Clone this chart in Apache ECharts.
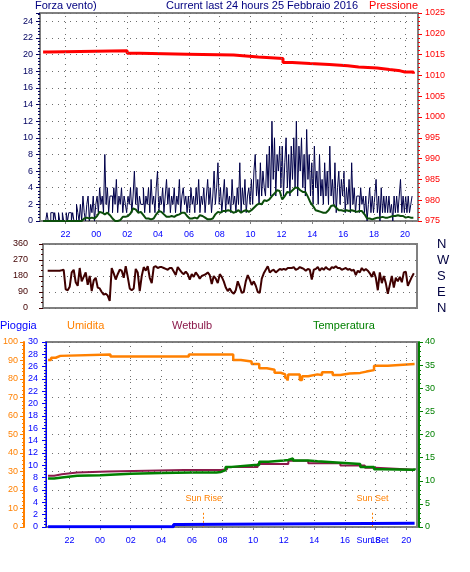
<!DOCTYPE html>
<html><head><meta charset="utf-8">
<script src="https://cdn.jsdelivr.net/npm/echarts@6/dist/echarts.min.js"></script>
<style>html,body{margin:0;padding:0;background:#fff}#c{width:470px;height:572px}</style>
</head><body><div id="c"></div>
<script>
// ---------- data ----------
const hourTicks = [-2,0,2,4,6,8,10,12,14,16,18,20];   // hours relative to 00:00 of 25 Feb
const gustStart = -3.45, gustStepMin = 5;
const gust = [0,0,0,1,0,
 0,1,1,0,1,0,0,1,0,0,1,0,
 0,1,0,1,1,0,1,0,0,2,1,0,
 2,0,3,1,0,2,3,0,2,1,3,0,
 2,3,1,4,2,3,1,8,2,4,1,3,
 3,1,4,2,5,1,3,2,4,1,3,2,
 1,3,2,4,1,3,6,2,4,1,3,2,
 2,4,1,3,2,4,1,5,2,3,1,4,
 6,1,3,2,4,1,3,5,2,4,1,3,
 2,4,1,3,2,5,1,3,4,2,3,1,
 3,1,4,2,3,1,4,2,5,1,3,2,
 4,1,3,5,2,4,1,3,6,2,4,7,
 2,4,1,3,5,1,4,2,3,1,5,2,
 3,1,4,2,7,1,4,2,5,1,3,4,
 2,5,2,6,8,3,5,2,7,3,6,4,
 3,8,4,9,3,12,5,10,3,8,6,9,
 4,9,3,7,10,4,8,3,9,5,10,4,
 12,3,9,6,10,4,8,3,11,5,8,3,
 7,2,9,4,6,2,8,3,5,2,7,3,
 6,2,9,3,5,2,7,1,4,6,2,5,
 3,6,1,4,2,5,1,7,2,4,1,3,
 3,1,4,2,3,1,3,0,2,4,1,3,
 1,3,5,1,3,0,4,1,3,1,3,1,
 3,1,2,0,3,1,3,1,3,5,1,3,
 1,3,1,3,1,2,3];
const avgStart = -3.45, avgStepMin = 10;
const avgWind = [0,0,0,0,0,0,0,0,0,0,0,0,0,0,0,0,
 0.3,0.4,0.3,0.4,0.3,
 0.6,1.1,1.0,0.8,1.0,0.7,0.3,
 0,0,0.1,0.5,0.5,0.6,0.9,
 1.5,1.4,1.0,1.1,0.7,0.3,0.3,
 0.2,0.3,0.8,1.2,1.1,0.8,0.5,
 0.5,0.6,0.5,0.7,0.8,1.0,1.0,
 0.6,0.3,0.3,0.4,0.3,0.7,0.6,
 0.4,0.2,0.2,0.3,0.8,1.1,1.0,
 1.2,1.2,1.3,1.2,1.0,1.1,1.3,
 1.0,1.2,1.3,1.1,1.3,1.6,1.9,
 2.1,2.0,2.5,2.4,2.6,3.0,3.3,
 3.7,3.6,2.6,3.0,3.5,3.4,3.7,
 4.0,4.0,3.7,3.5,3.5,2.9,2.2,
 1.8,1.3,1.2,1.1,1.0,1.0,1.3,
 1.8,1.9,1.6,1.3,1.3,1.2,1.3,
 1.2,1.3,1.2,1.1,1.2,1.2,0.8,
 0.3,0.3,0.2,0.3,0.4,0.4,0.5,
 0.4,0.4,0.5,0.6,0.6,0.7,0.6,
 0.6,0.4,0.5,0.4,0.4];
const pressTimes = [-3.45,-3.1,2.0,2.8,5.9,8.9,10.5,12.1,12.7,13.85,15.1,16.3,17.0,18.2,19.0,19.7,20.0,20.55];
const pressVals  = [1015.6,1015.9,1015.3,1015.1,1014.9,1014.45,1014.05,1013.1,1012.85,1012.6,1012.3,1012.0,1011.8,1011.4,1011.1,1010.8,1010.8,1010.4];
const dirStart = -3.15, dirStepMin = 7.78;
const windDir = [210,210,210,210,210,210,210,212,215,105,100,120,200,215,145,125,225,150,175,200,
 130,180,95,155,170,115,110,90,75,80,70,40,225,195,160,190,215,210,170,235,
 175,110,100,110,220,200,95,180,230,210,235,170,140,230,235,225,230,230,225,220,
 215,225,225,205,185,230,215,200,190,205,190,160,190,175,200,185,165,180,185,190,
 200,185,135,180,165,140,190,175,150,115,95,110,90,80,100,150,120,85,90,150,
 185,160,130,150,125,90,85,165,195,215,235,200,210,215,200,210,220,215,220,215,
 225,225,225,230,215,220,230,225,220,210,220,215,160,215,220,230,210,225,215,230,
 220,215,230,225,235,225,225,215,220,225,215,220,210,215,185,210,200,225,210,220,
 210,195,175,205,170,100,200,140,180,140,80,130,180,115,170,150,175,145,200,205,
 125,150,175,195];
const dirLetters = {0:'N',90:'E',180:'S',270:'W',360:'N'};
const humTimes = [-3.4,-3.2,-2.9,-2.6,0.68,5.8,8.7,9.2,9.9,10.4,10.9,11.4,11.8,12.1,12.25,12.3,12.9,13.05,13.2,13.6,14.2,14.5,15.0,15.2,15.7,16.3,17.0,17.4,17.9,18.8,18.9,20.55];
const humVals  = [90.3,91.5,92.5,93.3,92.1,93.3,90.3,89.4,88.1,85.8,85.0,83.4,82.5,80.5,79.1,82.5,82.5,79.5,81.5,82.5,82.2,83.6,83.6,82.2,83.0,83.3,84.0,84.8,87.2,87.2,88.1,88.1];
const tempTimes = [-3.4,-3.0,-2.5,-1.5,0,2,4,6,7.6,7.9,8.2,8.6,10.1,10.4,11.0,12.0,12.3,12.6,13.6,14.2,15.7,17.0,17.9,18.5,20.3,20.55];
const tempVals  = [10.5,10.7,11.1,11.2,11.5,11.7,11.8,11.8,11.9,12.3,13.0,13.4,13.4,14.1,14.4,14.5,14.85,14.4,14.2,13.9,13.6,13.0,12.5,12.4,12.4,12.7];
const wetTimes = [-3.4,-3.0,-2.5,-1.5,0.5,5.5,7.9,8.3,10.3,12.3,13.6,15.7,17.3,18.0,20.55];
const wetVals  = [11.1,11.4,11.8,12.0,12.3,12.3,12.5,13.0,13.6,14.3,13.8,13.3,12.8,12.4,12.3];
const rainTimes = [-3.4,4.8,5.1,20.55];
const rainVals  = [0.05,0.4,0.6,0.6];
const sunRise = 6.77, sunSet = 17.8;

// ---------- helpers ----------
const seq = (start, stepMin, vals) => vals.map((v,i)=>[start + i*stepMin/60, v]);
const pairs = (t, v) => t.map((x,i)=>[x, v[i]]);
const hh = v => { const h = ((Math.round(v) % 24) + 24) % 24; return (h<10?'0':'') + h; };
const FONT = 'Liberation Sans';
const DOT = '#6e6e6e';
const dotted = () => ({show:true, lineStyle:{color:DOT, type:[1,5], width:1}});
const vGrid = {silent:true, symbol:['none','none'], label:{show:false},
  lineStyle:{color:DOT, type:[1,5], width:1}, emphasis:{disabled:true},
  data: hourTicks.map(h=>({xAxis:h}))};

const chart = echarts.init(document.getElementById('c'), null, {renderer:'canvas'});
const frame = {show:true, borderColor:'#808080', borderWidth:2, backgroundColor:'transparent'};
const yl = {onZero:false};

const option = {
  animation:false,
  backgroundColor:'#fff',
  textStyle:{fontFamily:FONT},
  grid:[
    Object.assign({left:40, top:13, width:378, height:208}, frame),
    Object.assign({left:43, top:244, width:374, height:64}, frame),
    Object.assign({left:43, top:342, width:374, height:185}, frame)
  ],
  xAxis:[
    {gridIndex:0, type:'value', min:-3.65, max:20.85, position:'bottom',
     axisLine:{show:false, onZero:false},
     axisTick:{show:true, customValues:hourTicks, length:3, lineStyle:{color:'#808080'}},
     axisLabel:{customValues:hourTicks, formatter:hh, color:'#0000ff', fontSize:9, margin:9, fontFamily:FONT},
     splitLine:{show:false}},
    {gridIndex:1, type:'value', min:-3.454, max:20.785,
     axisLine:{show:false, onZero:false}, axisTick:{show:false}, axisLabel:{show:false}, splitLine:{show:false}},
    {gridIndex:2, type:'value', min:-3.532, max:20.707, position:'bottom',
     axisLine:{show:false, onZero:false},
     axisTick:{show:true, customValues:hourTicks, length:3, lineStyle:{color:'#808080'}},
     axisLabel:{customValues:hourTicks, formatter:hh, color:'#0000ff', fontSize:9, margin:9, fontFamily:FONT},
     splitLine:{show:false}},
    {gridIndex:2, type:'value', min:-3.532, max:20.707, position:'bottom',
     axisLine:{show:false, onZero:false}, axisTick:{show:false}, splitLine:{show:false},
     axisLabel:{customValues:[sunSet], formatter:()=> 'Sun Set', color:'#0000ff', fontSize:9, margin:9, fontFamily:FONT}}
  ],
  yAxis:[
    {gridIndex:0, type:'value', min:0, max:25, interval:2, position:'left',
     axisLine:{show:false, onZero:false},
     axisTick:{show:true, length:4, lineStyle:{color:'#000060'}},
     minorTick:{show:true, splitNumber:5, length:2, lineStyle:{color:'#000060'}},
     axisLabel:{color:'#000060', fontSize:9, margin:7, showMaxLabel:false, fontFamily:FONT},
     splitLine:dotted()},
    {gridIndex:0, type:'value', min:975, max:1025, interval:5, position:'right',
     axisLine:{show:false, onZero:false},
     axisTick:{show:true, length:4, lineStyle:{color:'#ff0000'}},
     minorTick:{show:true, splitNumber:5, length:2, lineStyle:{color:'#ff0000'}},
     axisLabel:{color:'#ff0000', fontSize:9, margin:7, fontFamily:FONT, formatter:v=>String(v)},
     splitLine:{show:false}},
    {gridIndex:1, type:'value', min:0, max:360, interval:90, position:'left',
     axisLine:{show:false, onZero:false},
     axisTick:{show:true, length:4, lineStyle:{color:'#400000'}},
     minorTick:{show:true, splitNumber:3, length:2, lineStyle:{color:'#400000'}},
     axisLabel:{color:'#400000', fontSize:9, margin:15, fontFamily:FONT},
     splitLine:dotted()},
    {gridIndex:1, type:'value', min:0, max:360, interval:90, position:'right',
     axisLine:{show:false, onZero:false}, axisTick:{show:false}, splitLine:{show:false},
     axisLabel:{formatter:v=>dirLetters[v], color:'#000040', fontSize:13, margin:20, fontFamily:FONT}},
    // bottom: rain (blue)
    {gridIndex:2, type:'value', min:0, max:30, interval:2, position:'left',
     axisLine:{show:true, onZero:false, lineStyle:{color:'#0000ff', width:1}},
     axisTick:{show:true, length:4, lineStyle:{color:'#0000ff'}},
     minorTick:{show:true, splitNumber:4, length:2, lineStyle:{color:'#0000ff'}},
     axisLabel:{color:'#0000ff', fontSize:9, margin:8, fontFamily:FONT},
     splitLine:{show:false}},
    // humidity (orange)
    {gridIndex:2, type:'value', min:0, max:100, interval:10, position:'left', offset:22,
     axisLine:{show:true, onZero:false, lineStyle:{color:'#ff8000', width:2}},
     axisTick:{show:true, length:4, lineStyle:{color:'#ff8000'}},
     minorTick:{show:true, splitNumber:5, length:2, lineStyle:{color:'#ff8000'}},
     axisLabel:{color:'#ff8000', fontSize:9, margin:6, fontFamily:FONT},
     splitLine:dotted()},
    // temperature (green)
    {gridIndex:2, type:'value', min:0, max:40, interval:5, position:'right', offset:2,
     axisLine:{show:true, onZero:false, lineStyle:{color:'#008000', width:2}},
     axisTick:{show:true, length:4, lineStyle:{color:'#008000'}},
     minorTick:{show:true, splitNumber:5, length:2, lineStyle:{color:'#008000'}},
     axisLabel:{color:'#008000', fontSize:9, margin:6, fontFamily:FONT},
     splitLine:{show:false}}
  ],
  series:[
    {type:'line', name:'gust', xAxisIndex:0, yAxisIndex:0, data:seq(gustStart,gustStepMin,gust), step:'end',
     showSymbol:false, lineStyle:{color:'#00004a', width:1}, z:2, markLine:vGrid},
    {type:'line', name:'avg', xAxisIndex:0, yAxisIndex:0, data:seq(avgStart,avgStepMin,avgWind),
     showSymbol:false, lineStyle:{color:'#0b4d0b', width:2}, z:3},
    {type:'line', name:'Pressione', xAxisIndex:0, yAxisIndex:1, data:pairs(pressTimes,pressVals), step:'end',
     showSymbol:false, lineStyle:{color:'#ff0000', width:3}, z:4},
    {type:'line', name:'dir', xAxisIndex:1, yAxisIndex:2, data:seq(dirStart,dirStepMin,windDir),
     showSymbol:false, lineStyle:{color:'#3f0000', width:2}},
    {type:'line', name:'Umidita', xAxisIndex:2, yAxisIndex:5, data:pairs(humTimes,humVals), step:'end',
     showSymbol:false, lineStyle:{color:'#ff8000', width:2.5}, markLine:vGrid},
    {type:'line', name:'Wetbulb', xAxisIndex:2, yAxisIndex:6, data:pairs(wetTimes,wetVals), step:'end',
     showSymbol:false, lineStyle:{color:'#8b1a4b', width:2}, z:3},
    {type:'line', name:'Temperatura', xAxisIndex:2, yAxisIndex:6, data:pairs(tempTimes,tempVals), step:'end',
     showSymbol:false, lineStyle:{color:'#008000', width:2.5}, z:4},
    {type:'line', name:'Pioggia', xAxisIndex:2, yAxisIndex:4, data:pairs(rainTimes,rainVals), step:'end',
     showSymbol:false, lineStyle:{color:'#0000ff', width:3}, z:5,
     markLine:{silent:true, symbol:['none','none'],
       lineStyle:{color:'#ff8000', type:[2,2], width:1},
       label:{show:true, position:'start', distance:10, color:'#ff8000', fontSize:9, fontFamily:FONT},
       data:[
         [{coord:[sunRise,2.3], label:{formatter:'Sun Rise'}},{coord:[sunRise,0]}],
         [{coord:[sunSet,2.3], label:{formatter:'Sun Set'}},{coord:[sunSet,0]}]
       ]}}
  ],
  graphic:[
    {type:'text', x:35, y:0, style:{text:'Forza vento)', fill:'#000080', font:'11px "Liberation Sans"'}},
    {type:'text', x:262, y:0, style:{text:'Current last 24 hours 25 Febbraio 2016', fill:'#000080', align:'center', font:'11px "Liberation Sans"'}},
    {type:'text', x:418, y:0, style:{text:'Pressione', fill:'#ff0000', align:'right', font:'11px "Liberation Sans"'}},
    {type:'text', x:0, y:320, style:{text:'Pioggia', fill:'#0000ff', font:'11px "Liberation Sans"'}},
    {type:'text', x:67, y:320, style:{text:'Umidita', fill:'#ff8000', font:'11px "Liberation Sans"'}},
    {type:'text', x:172, y:320, style:{text:'Wetbulb', fill:'#8b1a4b', font:'11px "Liberation Sans"'}},
    {type:'text', x:313, y:320, style:{text:'Temperatura', fill:'#008000', font:'11px "Liberation Sans"'}}
  ]
};
chart.setOption(option);
</script></body></html>
